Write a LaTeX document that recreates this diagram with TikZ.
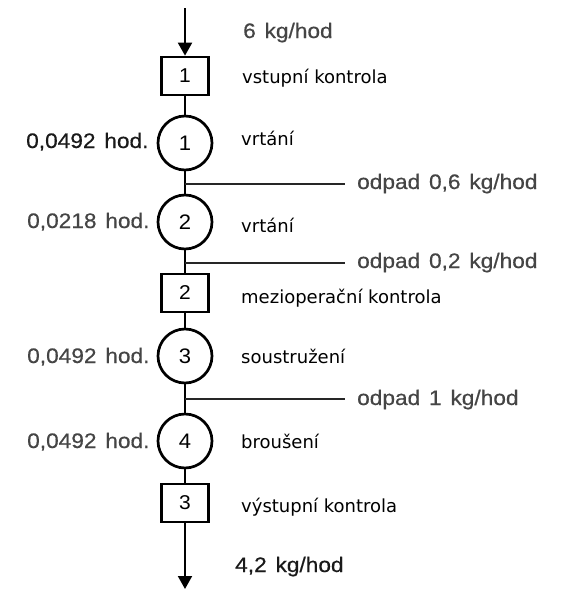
\documentclass[tikz,border=0pt]{standalone}
\usepackage{fontspec}
\setmainfont{DejaVu Sans}
\newfontfamily\arl[FakeStretch=1.08,FakeBold=0.5,WordSpace=1.4]{Liberation Sans}
\newfontfamily\arn[FakeStretch=1.05]{Liberation Sans}
\usetikzlibrary{arrows.meta}
\definecolor{labgray}{HTML}{454545}
\definecolor{labdark}{HTML}{1a1a1a}
\begin{document}
\begin{tikzpicture}[x=1pt,y=-1pt,
  stepbox/.style={draw, line width=2.7pt, minimum width=47pt, minimum height=38pt, inner sep=0pt, font=\arn\fontsize{20}{24}\selectfont},
  opcircle/.style={draw, circle, line width=2.7pt, minimum size=54pt, inner sep=0pt, font=\arn\fontsize{21}{25}\selectfont},
  flow/.style={line width=2pt},
  arr/.style={flow, -{Triangle[width=14pt,length=13pt]}},
  waste/.style={line width=1.8pt, draw=black!85},
  desc/.style={anchor=base west, inner sep=0pt, font=\fontsize{18}{22}\selectfont},
  val/.style={anchor=base west, inner sep=0pt, text=labgray, font=\arl\fontsize{21}{25}\selectfont}]
\useasboundingbox (0,0) rectangle (585,590);

% main nodes
\coordinate (top) at (185,8);
\node[stepbox] (b1) at (185,76) {1};
\node[opcircle] (c1) at (185,143) {1};
\node[opcircle] (c2) at (185,222) {2};
\node[stepbox] (b2) at (185,293) {2};
\node[opcircle] (c3) at (185,356) {3};
\node[opcircle] (c4) at (185,441) {4};
\node[stepbox] (b3) at (185,503) {3};
\coordinate (bot) at (185,589);

% waste junctions
\coordinate (j1) at (185,184);
\coordinate (e1) at (345,184);
\coordinate (j2) at (185,263);
\coordinate (e2) at (345,263);
\coordinate (j3) at (185,399);
\coordinate (e3) at (345,399);

% flow
\draw[arr] (top) -- (b1.north);
\draw[flow] (b1) -- (c1);
\draw[flow] (c1) -- (c2);
\draw[flow] (c2) -- (b2);
\draw[flow] (b2) -- (c3);
\draw[flow] (c3) -- (c4);
\draw[flow] (c4) -- (b3);
\draw[arr] (b3.south) -- (bot);

\draw[waste] (j1) -- (e1);
\draw[waste] (j2) -- (e2);
\draw[waste] (j3) -- (e3);

% labels
\node[val] (in) at (243,38) {6 kg/hod};
\node[val, text=labdark] (out) at (235,572) {4,2 kg/hod};
\node[val] (w1) at (357,189) {odpad 0,6 kg/hod};
\node[val] (w2) at (357,268) {odpad 0,2 kg/hod};
\node[val] (w3) at (357,405) {odpad 1 kg/hod};

\node[val, text=labdark] (t1) at (26,148) {0,0492 hod.};
\node[val] (t2) at (27,228) {0,0218 hod.};
\node[val] (t3) at (27,363) {0,0492 hod.};
\node[val] (t4) at (27,448) {0,0492 hod.};

\node[desc] (d1) at (242,83) {vstupní kontrola};
\node[desc] (d2) at (241,145) {vrtání};
\node[desc] (d3) at (241,232) {vrtání};
\node[desc] (d4) at (241,303) {mezioperační kontrola};
\node[desc] (d5) at (241,363) {soustružení};
\node[desc] (d6) at (241,448) {broušení};
\node[desc] (d7) at (241,512) {výstupní kontrola};
\end{tikzpicture}
\end{document}
